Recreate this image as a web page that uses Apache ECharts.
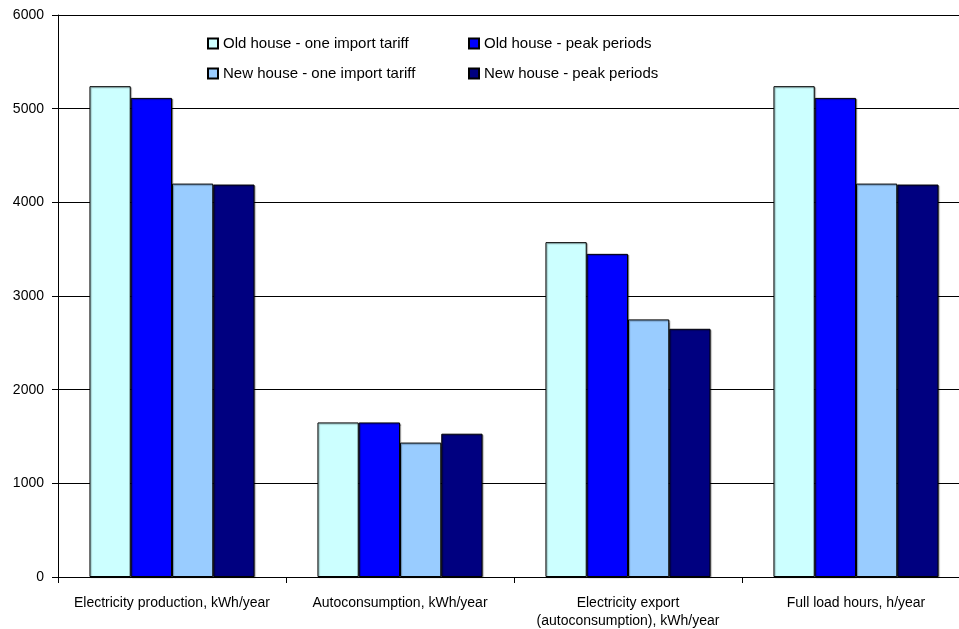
<!DOCTYPE html>
<html><head><meta charset="utf-8">
<script src="https://cdn.jsdelivr.net/npm/echarts@6/dist/echarts.min.js"></script>
<style>html,body{margin:0;padding:0;background:#fff}#c{width:959px;height:629px}</style>
</head><body><div id="c"></div>
<script>
const categories = ['Electricity production, kWh/year', 'Autoconsumption, kWh/year', 'Electricity export\n(autoconsumption), kWh/year', 'Full load hours, h/year'];
const seriesNames = ['Old house - one import tariff', 'Old house - peak periods', 'New house - one import tariff', 'New house - peak periods'];
const oldOne = [5240, 1650, 3575, 5240];
const oldPeak = [5115, 1650, 3450, 5115];
const newOne = [4200, 1435, 2750, 4200];
const newPeak = [4190, 1530, 2650, 4190];
const colors = ['#CCFFFF', '#0000FF', '#99CCFF', '#000080'];
const yTicks = { min: 0, max: 6000, interval: 1000 };

const values = [oldOne, oldPeak, newOne, newPeak];
const font = 'Liberation Sans, Arial, sans-serif';
const chart = echarts.init(document.getElementById('c'));
const legendPos = [[202, 31], [463, 31], [202, 61], [463, 61]];
chart.setOption({
  animation: false,
  backgroundColor: '#fff',
  grid: { left: 58, width: 912, top: 15, height: 562, containLabel: false, outerBoundsMode: 'none' },
  legend: seriesNames.map((n, i) => ({
    data: [n], left: legendPos[i][0], top: legendPos[i][1],
    icon: 'rect', itemWidth: 10, itemHeight: 10, itemGap: 5,
    textStyle: { fontFamily: font, fontSize: 15, color: '#000' },
    selectedMode: false
  })),
  xAxis: {
    type: 'category', data: categories,
    axisLine: { lineStyle: { color: '#000', width: 1 } },
    axisTick: { show: true, length: 6, lineStyle: { color: '#000' } },
    axisLabel: { fontFamily: font, fontSize: 14, color: '#000', margin: 17, lineHeight: 18, interval: 0 }
  },
  yAxis: {
    type: 'value', min: yTicks.min, max: yTicks.max, interval: yTicks.interval,
    axisLine: { show: true, lineStyle: { color: '#000', width: 1 } },
    axisTick: { show: true, length: 6, lineStyle: { color: '#000' } },
    axisLabel: { fontFamily: font, fontSize: 14, color: '#000', margin: 14, formatter: v => String(v) },
    splitLine: { show: true, lineStyle: { color: '#000', width: 1 } }
  },
  series: seriesNames.map((n, i) => ({
    name: n, type: 'bar', data: values[i],
    barGap: '0%', barCategoryGap: '27.6%',
    itemStyle: { color: colors[i], borderColor: '#000', borderWidth: 1,
      shadowColor: 'rgba(0,0,0,0.35)', shadowOffsetX: 1, shadowOffsetY: 1, shadowBlur: 1 }
  }))
});
</script></body></html>
